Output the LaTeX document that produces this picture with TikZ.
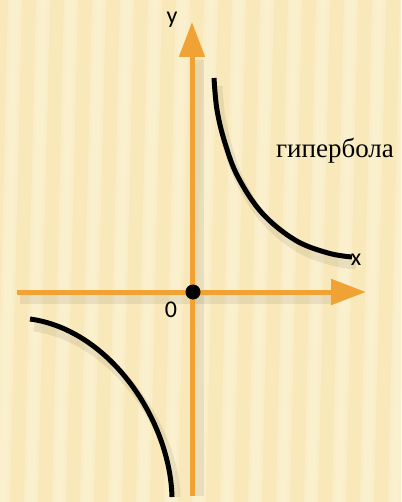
\documentclass[tikz,border=0pt]{standalone}
\usepackage{fontspec}
\setmainfont{Liberation Serif}
\newfontfamily\labelfont{Carlito}
\usetikzlibrary{arrows.meta}
\definecolor{bgcol}{RGB}{248,232,186}
\definecolor{stripe}{RGB}{253,246,218}
\definecolor{axiscol}{RGB}{240,163,52}
\begin{document}
\begin{tikzpicture}[x=1pt,y=-1pt,
  axis/.style={draw=axiscol, line width=5pt, -{Triangle[length=35pt,width=25pt]}},
  branch/.style={draw=black, line width=5pt},
  shadowline/.style={draw=black, opacity=0.07, line width=9pt},
  lbl/.style={font=\labelfont\fontsize{24}{24}\selectfont, inner sep=0pt}]
\useasboundingbox (0,0) rectangle (401,502);
\fill[bgcol] (0,0) rectangle (401,502);
\foreach \x in {-20,8,...,420} {
  \fill[stripe, opacity=0.45] (\x,0) -- (\x+14,0) -- (\x+2,502) -- (\x-12,502) -- cycle;
  \fill[stripe, opacity=0.35] (\x+3,0) -- (\x+11,0) -- (\x-1,502) -- (\x-9,502) -- cycle;
}
% shadows
\draw[shadowline] (20,299) -- (335,299);
\draw[shadowline] (199,496) -- (199,60);
\draw[shadowline] plot[smooth, tension=0.6] coordinates {(218,86) (221,118) (229,151) (242,185) (266,221) (299,248) (332,261) (356,265)};
\draw[shadowline] (34,327) .. controls (114,338) and (174,428) .. (176,497);
% axes
\coordinate (xs) at (17,292);
\coordinate (xe) at (366,292);
\coordinate (ys) at (192,496);
\coordinate (ye) at (192,22);
\draw[axis] (xs) -- (xe);
\draw[axis] (ys) -- (ye);
% hyperbola branches
\draw[branch] plot[smooth, tension=0.6] coordinates {(214,78) (217,110) (225,143) (238,177) (262,213) (295,240) (328,253) (352,257)};
\draw[branch] (30,319) .. controls (110,330) and (170,420) .. (172,497);
% origin
\node[circle, fill=black, minimum size=15pt, inner sep=0pt] (o) at (193,292) {};
% labels
\node[lbl] (ylab) at (172,20) {у};
\node[lbl] (xlab) at (356,260) {х};
\node[lbl] (zero) at (171,310) {0};
\node[font=\fontsize{27}{27}\selectfont, inner sep=0pt] (hyp) at (335,151) {гипербола};
\end{tikzpicture}
\end{document}
